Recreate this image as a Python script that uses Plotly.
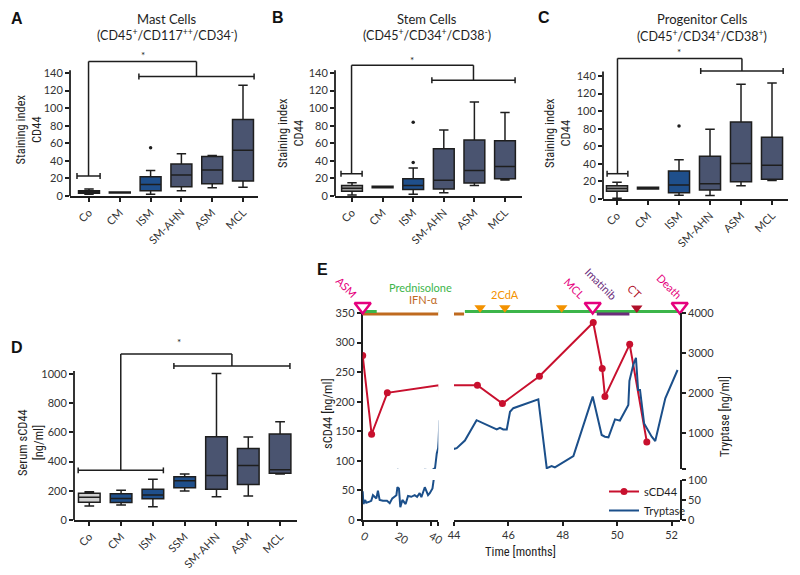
import plotly.graph_objects as go

W, H = 800, 575

# ---------------- data ----------------
cats_abc = ["Co", "CM", "ISM", "SM-AHN", "ASM", "MCL"]

mast_lo = [2, 3.5, 2, 6, 9.5, 10]
mast_q1 = [3, 3.5, 6, 10.5, 14, 17]
mast_med = [4.5, 4, 13, 24, 29.5, 52]
mast_q3 = [6, 4.5, 22, 36.5, 45, 87]
mast_hi = [8, 4.5, 29, 48, 46, 126]
mast_out_cat = ["ISM"]
mast_out_val = [55]

stem_lo = [1, 9.3, 2, 3.8, 12, 18.2]
stem_q1 = [5.5, 9.3, 7.5, 8, 14.8, 19.7]
stem_med = [8.7, 10, 12, 17.8, 29, 33.7]
stem_q3 = [12, 11, 19.7, 53.7, 63.6, 62.8]
stem_hi = [15, 11, 32, 75, 107, 95]
stem_out_cat = ["ISM", "ISM"]
stem_out_val = [38, 84]

prog_lo = [1, 11.4, 4.2, 4, 15.2, 21.2]
prog_q1 = [8.7, 11.4, 7.2, 10.2, 19.7, 22.4]
prog_med = [12, 12.2, 15.9, 17.5, 40.5, 38.3]
prog_q3 = [15.2, 13.3, 31.9, 48.6, 87.6, 70.2]
prog_hi = [19, 13.3, 44.8, 79.5, 130.5, 132]
prog_out_cat = ["ISM"]
prog_out_val = [83]

cats_d = ["Co", "CM", "ISM", "SSM", "SM-AHN", "ASM", "MCL"]
serum_lo = [96, 103, 91, 199, 160, 164, 315]
serum_q1 = [121, 120, 146, 221, 210, 244, 320]
serum_med = [155, 148, 171, 268, 304, 374, 345]
serum_q3 = [183, 180, 210, 297, 571, 489, 589]
serum_hi = [194, 203, 279, 315, 1004, 568, 673]

# significance brackets: (left x0, left x1, left y, top y, right x0, right x1, right y, star x, star y)
sig_a = [-0.39, 0.36, 22.7, 153, 1.62, 5.36, 136, 1.75, 160]
sig_b = [-0.36, 0.33, 25.3, 148.7, 2.61, 5.33, 131.7, 1.96, 155]
sig_c = [-0.32, 0.35, 28.8, 160, 2.7, 5.36, 145.7, 2.0, 167]
sig_d = [-0.35, 2.33, 340, 1137, 2.66, 6.31, 1055, 2.83, 1220]

# panel E
scd44_month = [0, 5.2, 14.4, 44.86, 45.78, 47.14, 49.12, 49.45, 49.55, 50.46, 51.09]
scd44_val = [278, 145, 215, 228, 197, 243, 334, 256, 209, 297, 132]

tryp_month = [0.0, 0.4, 1.5, 2.1, 4.0, 5.0, 6.0, 8.0, 8.9, 9.9, 11.8, 14.2, 15.8, 17.3,
              19.7, 20.3, 21.2, 22.0, 23.2, 25.1, 26.5, 28.4, 30.4, 31.8, 33.3, 34.3,
              36.3, 38.2, 39.2, 40.8, 42.3, 43.3, 44.1, 44.4, 44.83, 45.57, 45.69,
              45.81, 45.94, 46.06, 46.18, 47.1, 47.41, 47.59, 47.71, 48.39, 49.1,
              49.43, 49.55, 49.68, 49.92, 50.1, 50.41, 50.45, 50.59, 50.69, 50.77,
              50.84, 50.99, 51.27, 51.4, 51.77, 52.22]
tryp_val = [72, 40, 50, 43, 46, 48, 62, 54, 73, 50, 48, 48, 42, 54,
            62, 82, 79, 32, 50, 40, 60, 58, 62, 58, 67, 57,
            82, 62, 67, 79, 125, 490, 620, 810, 1320, 1090, 1130,
            1090, 1090, 1530, 1620, 1840, 120, 175, 142, 425, 1910,
            950, 908, 892, 1340, 1310, 1700, 2300, 2700, 2880, 2075,
            2075, 1240, 908, 800, 1867, 2575]

diag_month = [0, 49.1, 52.3]          # ASM, MCL, Death
cda_month = [44.96, 45.87, 47.96]     # 2CdA
ct_month = [50.72]                    # CT

pred_month = [0, 8.2, None, 44.4, 52.31]   # Prednisolone periods
ifn_month = [0, 44.37]                     # IFN-alpha
ima_month = [49.25, 50.45]                 # Imatinib

# ---------------- helpers ----------------
def P(x, y):
    return x / W, 1 - y / H

def xdom(a, b):
    return [a / W, b / W]

def ydom(p0, ppu, rmax):
    return [1 - p0 / H, 1 - (p0 - rmax * ppu) / H]

DARK = "#1e1e1e"
BLUE = "#1f4f8b"
SLATE = "#4a5470"
TICKC = "#333333"
FONT = "Lato, 'Open Sans', sans-serif"
NARROW = "'Liberation Sans Narrow', 'Roboto Condensed', Roboto, sans-serif"

fill_abc = {"Co": "#9d9d9d", "CM": BLUE, "ISM": BLUE, "SM-AHN": SLATE, "ASM": SLATE, "MCL": SLATE}
fill_d = {"Co": "#d0d0d0", "CM": BLUE, "ISM": BLUE, "SSM": BLUE, "SM-AHN": SLATE, "ASM": SLATE, "MCL": SLATE}

fig = go.Figure()
shapes = []
annots = []


def add_boxes(cats, lo, q1, med, q3, hi, fills, xa, ya):
    for i, c in enumerate(cats):
        fig.add_trace(go.Box(
            x=[c], lowerfence=[lo[i]], q1=[q1[i]], median=[med[i]], q3=[q3[i]],
            upperfence=[hi[i]], orientation="v", fillcolor=fills[c],
            line=dict(color=DARK, width=1.5), width=0.68, whiskerwidth=0.45,
            boxpoints=False, xaxis=xa, yaxis=ya, showlegend=False, hoverinfo="skip"))


def add_out(cats, vals, xa, ya):
    fig.add_trace(go.Scatter(x=cats, y=vals, mode="markers",
                             marker=dict(size=3.5, color=DARK), xaxis=xa, yaxis=ya,
                             showlegend=False, hoverinfo="skip"))


def line(xr, yr, x0, y0, x1, y1, w=1.5, color=DARK):
    shapes.append(dict(type="line", xref=xr, yref=yr, x0=x0, y0=y0, x1=x1, y1=y1,
                       line=dict(color=color, width=w)))


def bracket(s, xr, yr, cap):
    lx0, lx1, ly, top, rx0, rx1, ry, sx, sy = s
    lm = (lx0 + lx1) / 2
    rm = (rx0 + rx1) / 2
    line(xr, yr, lx0, ly, lx1, ly)
    line(xr, yr, lx0, ly - cap, lx0, ly + cap)
    line(xr, yr, lx1, ly - cap, lx1, ly + cap)
    line(xr, yr, lm, ly, lm, top)
    line(xr, yr, lm, top, rm, top)
    line(xr, yr, rm, top, rm, ry)
    line(xr, yr, rx0, ry, rx1, ry)
    line(xr, yr, rx0, ry - cap, rx0, ry + cap)
    line(xr, yr, rx1, ry - cap, rx1, ry + cap)
    annots.append(dict(x=sx, y=sy, xref=xr, yref=yr, text="*", showarrow=False,
                       font=dict(size=10, color=DARK, family=FONT)))


def yline(xa, ya, top):
    shapes.append(dict(type="line", xref=xa + " domain", yref=ya, x0=0, x1=0, y0=0, y1=top,
                       line=dict(color=DARK, width=1.8)))


# ---------------- panels A-D ----------------
add_boxes(cats_abc, mast_lo, mast_q1, mast_med, mast_q3, mast_hi, fill_abc, "x", "y")
add_out(mast_out_cat, mast_out_val, "x", "y")
add_boxes(cats_abc, stem_lo, stem_q1, stem_med, stem_q3, stem_hi, fill_abc, "x2", "y2")
add_out(stem_out_cat, stem_out_val, "x2", "y2")
add_boxes(cats_abc, prog_lo, prog_q1, prog_med, prog_q3, prog_hi, fill_abc, "x3", "y3")
add_out(prog_out_cat, prog_out_val, "x3", "y3")
add_boxes(cats_d, serum_lo, serum_q1, serum_med, serum_q3, serum_hi, fill_d, "x4", "y4")

bracket(sig_a, "x", "y", 3.4)
bracket(sig_b, "x2", "y2", 3.4)
bracket(sig_c, "x3", "y3", 3.4)
bracket(sig_d, "x4", "y4", 20)

yline("x", "y", 143)
yline("x2", "y2", 143)
yline("x3", "y3", 145)
yline("x4", "y4", 1020)

# ---------------- panel E ----------------
RED = "#c8102e"
TBLUE = "#1b4f8a"
PINK = "#e5007d"
ORANGE = "#f39200"
GREEN = "#3cb54a"
BROWN = "#bf6a1f"
PURPLE = "#6b2d7b"
CTRED = "#b0102a"

for xa in ["x5", "x6"]:
    fig.add_trace(go.Scatter(x=ifn_month, y=[348.3] * len(ifn_month), mode="lines",
                             line=dict(color=BROWN, width=3), xaxis=xa, yaxis="y5",
                             showlegend=False, hoverinfo="skip"))
    fig.add_trace(go.Scatter(x=pred_month, y=[None if m is None else 352.7 for m in pred_month],
                             mode="lines", line=dict(color=GREEN, width=3), xaxis=xa, yaxis="y5",
                             showlegend=False, hoverinfo="skip", connectgaps=False))
    fig.add_trace(go.Scatter(x=ima_month, y=[348.3] * len(ima_month), mode="lines",
                             line=dict(color=PURPLE, width=3), xaxis=xa, yaxis="y5",
                             showlegend=False, hoverinfo="skip"))

for xa in ["x5", "x6"]:
    for ya in ["y6", "y7"]:
        fig.add_trace(go.Scatter(x=tryp_month, y=tryp_val, mode="lines",
                                 line=dict(color=TBLUE, width=2), xaxis=xa, yaxis=ya,
                                 name="Tryptase", legendrank=2,
                                 showlegend=(xa == "x6" and ya == "y6"), hoverinfo="skip"))

for xa in ["x5", "x6"]:
    fig.add_trace(go.Scatter(x=scd44_month, y=scd44_val, mode="lines+markers",
                             line=dict(color=RED, width=2), marker=dict(size=7, color=RED),
                             xaxis=xa, yaxis="y5", name="sCD44", legendrank=1,
                             showlegend=(xa == "x6"), hoverinfo="skip"))

SEG1_END = 44.2
for xa, keep in [("x5", lambda m: m < SEG1_END), ("x6", lambda m: m >= SEG1_END)]:
    dm = [m for m in diag_month if keep(m)]
    cm = [m for m in cda_month if keep(m)]
    tm = [m for m in ct_month if keep(m)]
    if dm:
        fig.add_trace(go.Scatter(x=dm, y=[361] * len(dm), mode="markers", cliponaxis=False,
                                 marker=dict(symbol="triangle-down", size=14, color="white",
                                             line=dict(color=PINK, width=2.5)),
                                 xaxis=xa, yaxis="y5", showlegend=False, hoverinfo="skip"))
    if cm:
        fig.add_trace(go.Scatter(x=cm, y=[359] * len(cm), mode="markers", cliponaxis=False,
                                 marker=dict(symbol="triangle-down", size=10, color=ORANGE),
                                 xaxis=xa, yaxis="y5", showlegend=False, hoverinfo="skip"))
    if tm:
        fig.add_trace(go.Scatter(x=tm, y=[358.5] * len(tm), mode="markers", cliponaxis=False,
                                 marker=dict(symbol="triangle-down", size=10, color=CTRED),
                                 xaxis=xa, yaxis="y5", showlegend=False, hoverinfo="skip"))

# ---------------- axes ----------------
tickfont = dict(size=11, color=TICKC, family=FONT)


def cat_x(dom, rng, cats, anchor):
    return dict(domain=dom, range=rng, type="category", categoryorder="array",
                categoryarray=cats, tickangle=-45, ticks="outside", ticklen=4,
                tickwidth=1.5, tickcolor=DARK, showline=True, linecolor=DARK,
                linewidth=1.8, showgrid=False, zeroline=False, tickfont=tickfont,
                anchor=anchor, automargin=False)


def val_y(dom, rng, tv, anchor):
    return dict(domain=dom, range=rng, tickvals=tv, ticks="outside", ticklen=4,
                tickwidth=1.5, tickcolor=DARK, showline=False, showgrid=False,
                zeroline=False, tickfont=tickfont, anchor=anchor, automargin=False)


PPU = 123 / 140
layout_axes = dict(
    xaxis=cat_x(xdom(70, 258), [-0.617, 5.487], cats_abc, "y"),
    yaxis=val_y(ydom(196, PPU, 166), [0, 166], list(range(0, 141, 20)), "x"),
    xaxis2=cat_x(xdom(335, 522), [-0.556, 5.556], cats_abc, "y2"),
    yaxis2=val_y(ydom(196, PPU, 162), [0, 162], list(range(0, 141, 20)), "x2"),
    xaxis3=cat_x(xdom(603, 788), [-0.452, 5.516], cats_abc, "y3"),
    yaxis3=val_y(ydom(199, PPU, 172), [0, 172], list(range(0, 141, 20)), "x3"),
    xaxis4=cat_x(xdom(74, 297), [-0.481, 6.532], cats_d, "y4"),
    yaxis4=val_y(ydom(520, 0.146, 1260), [0, 1260], list(range(0, 1001, 200)), "x4"),
)

eaxis = dict(ticks="outside", ticklen=4, tickwidth=1.5, tickcolor=DARK, showline=True,
             linecolor=DARK, linewidth=1.8, showgrid=False, zeroline=False, tickfont=tickfont,
             automargin=False)
layout_axes.update(
    xaxis5=dict(domain=xdom(362.7, 438.3), range=[0, SEG1_END], tickvals=[0, 20, 40, SEG1_END],
                ticktext=["0", "20", "40", " "], anchor="y5", **eaxis),
    xaxis6=dict(domain=xdom(454, 680), range=[44, 52.31], tickvals=[44, 46, 48, 50, 52],
                anchor="y5", **eaxis),
    yaxis5=dict(domain=ydom(520, 207 / 350, 362), range=[0, 362],
                tickvals=list(range(0, 351, 50)), anchor="x5", layer="below traces", **eaxis),
    yaxis6=dict(domain=[1 - 469 / H, 1 - 313 / H], range=[100, 4000],
                tickvals=[100, 1000, 2000, 3000, 4000],
                ticktext=[" ", "1000", "2000", "3000", "4000"], anchor="x6", side="right",
                layer="below traces", **eaxis),
    yaxis7=dict(domain=[1 - 520 / H, 1 - 480 / H], range=[0, 100], tickvals=[0, 50, 100],
                anchor="x6", side="right", **eaxis),
)

# ---------------- text ----------------
def txt(x, y, s, size=12, color=DARK, family=FONT, angle=0, **kw):
    px_, py_ = P(x, y)
    annots.append(dict(x=px_, y=py_, xref="paper", yref="paper", text=s, showarrow=False,
                       textangle=angle, font=dict(size=size, color=color, family=family),
                       xanchor="center", yanchor="middle", **kw))

LET = "'Liberation Sans', Arial, sans-serif"
txt(17, 19, "<b>A</b>", 16, "#111", LET)
txt(278, 18, "<b>B</b>", 16, "#111", LET)
txt(544, 18, "<b>C</b>", 16, "#111", LET)
txt(17, 347, "<b>D</b>", 16, "#111", LET)
txt(322, 269, "<b>E</b>", 16, "#111", LET)

txt(167, 18.5, "Mast Cells", 13)
txt(167, 34.5, "(CD45<sup>+</sup>/CD117<sup>++</sup>/CD34<sup>-</sup>)", 12.5)
txt(427, 18.5, "Stem Cells", 13)
txt(427, 34.5, "(CD45<sup>+</sup>/CD34<sup>+</sup>/CD38<sup>-</sup>)", 12.5)
txt(702, 19.5, "Progenitor Cells", 13)
txt(702, 35.5, "(CD45<sup>+</sup>/CD34<sup>+</sup>/CD38<sup>+</sup>)", 12.5)

txt(27.5, 130, "Staining index<br>CD44", 12.5, DARK, NARROW, -90)
txt(290, 133, "Staining index<br>CD44", 12.5, DARK, NARROW, -90)
txt(557, 133, "Staining index<br>CD44", 12.5, DARK, NARROW, -90)
txt(30, 443, "Serum sCD44<br>[ng/ml]", 12.5, DARK, NARROW, -90)

txt(327, 414, "sCD44 [ng/ml]", 12.5, DARK, NARROW, -90)
txt(724, 417, "Tryptase [ng/ml]", 12.5, DARK, NARROW, -90)
txt(520, 551, "Time [months]", 12.5, DARK, NARROW)

txt(347, 287, "ASM", 11, PINK, angle=45)
txt(420, 287, "Prednisolone", 11, GREEN)
txt(423, 299, "IFN-α", 11, BROWN)
txt(505, 294, "2CdA", 11, ORANGE)
txt(575, 288, "MCL", 11, PINK, angle=45)
txt(601, 283, "Imatinib", 11, PURPLE, angle=45)
txt(635, 291, "CT", 11, CTRED, angle=45)
txt(670, 286, "Death", 11, PINK, angle=45)

fig.update_layout(
    width=W, height=H, margin=dict(l=0, r=0, t=0, b=0, pad=0), autosize=False,
    paper_bgcolor="white", plot_bgcolor="rgba(0,0,0,0)",
    font=dict(family=FONT, color=DARK), boxmode="overlay",
    shapes=shapes, annotations=annots,
    legend=dict(x=604 / W, y=1 - 477 / H, xanchor="left", yanchor="top",
                bgcolor="rgba(0,0,0,0)", font=dict(size=11, color=DARK, family=FONT),
                itemwidth=30, tracegroupgap=0),
    **layout_axes,
)

fig.write_html("out.html", config={"displayModeBar": False},
               post_script="document.body.style.margin='0px';")
